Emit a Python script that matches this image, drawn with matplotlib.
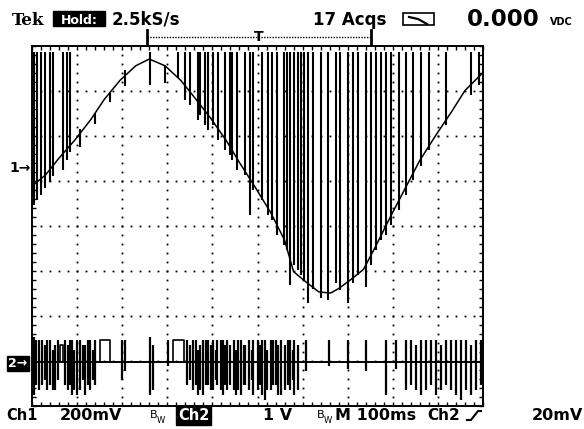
import numpy as np
import matplotlib.pyplot as plt
from matplotlib.patches import Rectangle
from matplotlib.lines import Line2D

# ---- scope settings ----
MS_PER_DIV = 100.0     # M 100ms
CH1_MV_PER_DIV = 200.0  # Ch1 200mV
CH2_MV_PER_DIV = 1000.0  # Ch2 1 V
CH1_POS = 5.31          # ground markers, divisions above bottom graticule line
CH2_POS = 0.98

# ---- Ch1: slow sine (ms, mV) ----
ch1_t = [0, 30, 60, 95, 130, 160, 195, 230, 260, 295, 330, 360, 395, 430, 460,
         495, 530, 560, 580, 607, 636, 662, 680, 707, 735, 760, 795, 830, 860,
         895, 930, 960, 1000]
ch1_mv = [-85, -35, 40, 120, 210, 300, 385, 450, 480, 450, 385, 310, 220, 120, 20,
          -90, -205, -325, -465, -510, -555, -560, -540, -500, -455, -360, -220,
          -85, 30, 140, 245, 340, 420]

# Ch1 glitches: time, low end, high end (mV)
ch1_spike_t = [4, 11, 20, 29, 40, 47, 69, 78, 84, 107, 140, 173, 207, 262, 296,
               324, 340, 351, 367, 373, 384, 391, 402, 413, 429, 440, 444, 455,
               473, 484, 491, 511, 524, 533, 544, 558, 566, 573, 580, 589, 596,
               602, 613, 624, 640, 656, 673, 684, 700, 711, 722, 740, 751, 762,
               773, 784, 796, 813, 829, 844, 862, 880, 918, 973, 991]
ch1_spike_lo = [-169, -147, -124, -93, -67, -40, -13, 31, 67, 90, 190, 290, 360,
                364, 373, 395, 298, 275, 209, 231, 187, 164, 187, 120, 75, 53,
                30, -13, -35, -213, -100, -147, -213, -235, -302, -345, -369,
                -524, -435, -457, -480, -500, -604, -540, -582, -591, -515, -545,
                -604, -515, -480, -533, -435, -370, -325, -300, -258, -190, -125,
                -58, 5, 75, 185, 320, 365]
ch1_spike_hi = [510, 510, 510, 510, 510, 510, 510, 510, 510, 170, 240, 330, 430,
                510, 449, 510, 510, 510, 510, 510, 510, 510, 510, 510, 510, 510,
                510, 510, 510, 510, 510, 510, 510, 510, 510, 510, 510, 510, 510,
                510, 510, 510, 510, 510, 510, 510, 510, 510, 510, 510, 510, 510,
                510, 510, 510, 510, 510, 510, 510, 510, 510, 510, 510, 510, 510]

# ---- Ch2: digital noise around ground (ms, mV) ----
ch2_base_t = [0, 1000]
ch2_base_mv = [0, 0]
ch2_spike_t = [4, 9, 16, 22, 28, 33, 40, 46, 51, 57, 73, 79, 84, 89, 93, 100,
               107, 113, 118, 124, 129, 135, 140, 200, 207, 262, 269, 302, 344,
               351, 356, 364, 369, 373, 380, 386, 391, 396, 402, 407, 411, 418,
               424, 429, 433, 440, 447, 452, 456, 464, 469, 473, 482, 487, 491,
               500, 506, 511, 517, 522, 529, 535, 540, 546, 551, 560, 567, 573,
               578, 582, 589, 607, 658, 700, 740, 784, 807, 829, 840, 851, 862,
               873, 884, 896, 907, 918, 929, 940, 951, 962, 973, 984, 996]
ch2_spike_hi = [550, 490, 490, 490, 380, 490, 490, 270, 380, 490, 490, 380, 490,
                490, 270, 490, 490, 380, 380, 490, 490, 270, 490, 490, 490, 550,
                380, 490, 490, 380, 490, 490, 270, 380, 490, 490, 490, 380, 490,
                270, 490, 490, 490, 380, 490, 380, 490, 270, 490, 490, 380, 380,
                490, 270, 490, 490, 380, 490, 490, 270, 490, 490, 490, 380, 490,
                380, 490, 490, 270, 490, 380, 490, 490, 490, 490, 490, 490, 490,
                490, 380, 490, 490, 490, 490, 380, 490, 490, 490, 490, 490, 380,
                490, 490]
ch2_spike_lo = [-730, -510, -620, -510, -400, -620, -510, -620, -620, -400, -510,
                -620, -510, -730, -620, -730, -620, -400, -730, -510, -620, -400,
                -510, -400, -200, -730, -620, -100, -510, -400, -620, -510, -730,
                -620, -730, -510, -510, -620, -620, -400, -510, -620, -730, -510,
                -620, -510, -620, -730, -620, -730, -510, -510, -620, -400, -730,
                -620, -510, -730, -840, -620, -620, -510, -510, -730, -730, -620,
                -510, -620, -400, -730, -620, -200, -100, -150, -200, -730, -150,
                -620, -510, -620, -730, -620, -510, -730, -620, -510, -620, -730,
                -840, -620, -730, -620, -510]
# square pulses: start, stop, level
ch2_pulse_t0 = [151, 313, 62]
ch2_pulse_t1 = [173, 336, 69]
ch2_pulse_mv = [490, 490, 380]

W, H = 584, 429
fig = plt.figure(figsize=(W / 100, H / 100), dpi=100)
ax = fig.add_axes([32 / W, 1 - 406 / H, 451 / W, 360 / H])
ax.set_xlim(0, 10 * MS_PER_DIV)
ax.set_ylim(0, 8)


def ch1_y(v):
    return CH1_POS + np.asarray(v, dtype=float) / CH1_MV_PER_DIV


def ch2_y(v):
    return CH2_POS + np.asarray(v, dtype=float) / CH2_MV_PER_DIV


# graticule: dotted division lines, dots every 1/5 div
minor_x = np.arange(20, 1000, 20)
minor_y = np.arange(0.2, 8, 0.2)
for k in range(1, 10):
    ax.plot(np.full_like(minor_y, k * MS_PER_DIV), minor_y, ls='none',
            marker='s', ms=1.3, mec='none', color='k')
for k in range(1, 8):
    ax.plot(minor_x, np.full_like(minor_x, k, dtype=float), ls='none',
            marker='s', ms=1.3, mec='none', color='k')

# frame ticks
ax.set_xticks(np.arange(0, 1001, 100))
ax.set_xticks(minor_x, minor=True)
ax.set_yticks(np.arange(0, 9, 1))
ax.set_yticks(minor_y, minor=True)
ax.tick_params(which='both', direction='in', top=True, right=True,
               length=3, width=1, labelbottom=False, labelleft=False)
for s in ax.spines.values():
    s.set_linewidth(1.4)

# channel 1
ax.plot(ch1_t, ch1_y(ch1_mv), color='k', lw=1.1)
ax.vlines(ch1_spike_t, ch1_y(ch1_spike_lo), ch1_y(ch1_spike_hi), color='k', lw=1.5)

# channel 2
ax.plot(ch2_base_t, ch2_y(ch2_base_mv), color='k', lw=1.4)
ax.vlines(ch2_spike_t, ch2_y(ch2_spike_lo), ch2_y(ch2_spike_hi), color='k', lw=1.6)
for t0, t1, v in zip(ch2_pulse_t0, ch2_pulse_t1, ch2_pulse_mv):
    ax.plot([t0, t0, t1, t1], ch2_y([0, v, v, 0]), color='k', lw=1.2)

# record-window bracket and trigger point above the graticule
yb = 8 + 0.19
ax.plot([255, 751], [yb, yb], ls=(0, (1, 1)), color='k', lw=1, clip_on=False)
ax.plot([255, 255], [yb - 0.17, yb + 0.17], color='k', lw=2, clip_on=False)
ax.plot([751, 751], [yb - 0.17, yb + 0.17], color='k', lw=2, clip_on=False)
ax.text(502, yb, 'T', ha='center', va='center', fontsize=10,
        fontweight='bold', clip_on=False)


def px(x, y):
    return x / W, 1 - y / H


bold = dict(fontweight='bold', family='DejaVu Sans', color='k')

# status line
fig.text(*px(12, 25), 'Tek', fontsize=12, fontweight='bold',
         family='DejaVu Serif', va='baseline')
fig.patches.append(Rectangle(px(53, 26), 52 / W, 15 / H, transform=fig.transFigure,
                             color='k'))
fig.text(*px(79, 24), 'Hold:', fontsize=9, ha='center', va='baseline',
         fontweight='bold', color='w')
fig.text(*px(112, 25), '2.5kS/s', fontsize=12, va='baseline', **bold)
fig.text(*px(313, 25), '17 Acqs', fontsize=12, va='baseline', **bold)
fig.patches.append(Rectangle(px(403, 25), 31 / W, 12 / H, transform=fig.transFigure,
                             fill=False, ec='k', lw=1.2))
fig.lines.append(Line2D([409 / W, 418 / W, 427 / W], [1 - 17 / H, 1 - 19 / H, 1 - 24 / H],
                        transform=fig.transFigure, color='k', lw=1.6))
fig.text(*px(467, 26), '0.000', fontsize=16.5, va='baseline', **bold)
fig.text(*px(550, 25), 'VDC', fontsize=7, va='baseline', **bold)

# channel markers
fig.text(*px(9, 172), '1\u2192', fontsize=10, va='baseline', **bold)
fig.text(*px(8, 367), '2\u2192', fontsize=9, va='baseline', fontweight='bold',
         color='w', bbox=dict(boxstyle='square,pad=0.1', fc='k', ec='k'))

# settings line
fig.text(*px(6, 420), 'Ch1', fontsize=10.5, va='baseline', **bold)
fig.text(*px(60, 420), '200mV', fontsize=11.5, va='baseline', **bold)
fig.text(*px(150, 418), 'B', fontsize=8, va='baseline', family='DejaVu Sans')
fig.text(*px(157, 423), 'W', fontsize=6, va='baseline', family='DejaVu Sans')
fig.text(*px(178, 420), 'Ch2', fontsize=10.5, va='baseline', fontweight='bold',
         color='w', bbox=dict(boxstyle='square,pad=0.12', fc='k', ec='k'))
fig.text(*px(263, 420), '1 V', fontsize=11.5, va='baseline', **bold)
fig.text(*px(317, 418), 'B', fontsize=8, va='baseline', family='DejaVu Sans')
fig.text(*px(324, 423), 'W', fontsize=6, va='baseline', family='DejaVu Sans')
fig.text(*px(335, 420), 'M 100ms', fontsize=11.5, va='baseline', **bold)
fig.text(*px(427, 420), 'Ch2', fontsize=11, va='baseline', **bold)
fig.lines.append(Line2D([467 / W, 471 / W, 478 / W, 481 / W],
                        [1 - 420 / H, 1 - 420 / H, 1 - 411 / H, 1 - 411 / H],
                        transform=fig.transFigure, color='k', lw=1.5))
fig.text(*px(532, 420), '20mV', fontsize=11.5, va='baseline', **bold)

fig.savefig('out.png', dpi=100)
